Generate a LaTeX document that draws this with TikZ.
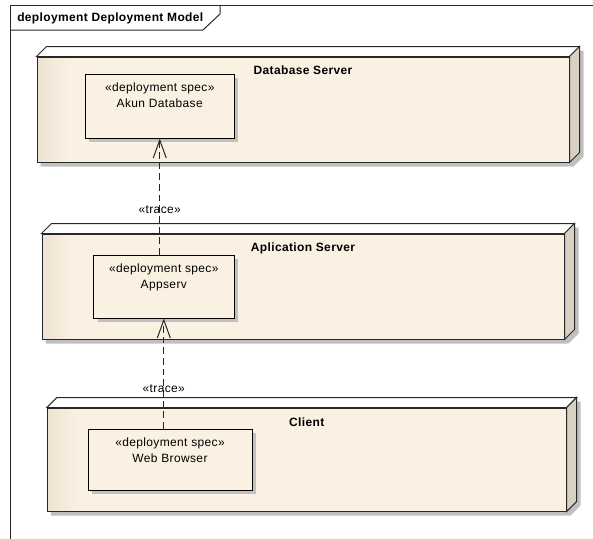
\documentclass[tikz,border=0pt]{standalone}
\usepackage{fontspec}
\setmainfont{Liberation Sans}[LetterSpace=3]
\usetikzlibrary{arrows.meta,shadows}
\pgfdeclarelayer{background}
\pgfsetlayers{background,main}
\definecolor{beige}{RGB}{251,241,226}
\definecolor{beigeD}{RGB}{238,227,211}
\definecolor{sidec}{RGB}{216,208,192}
\definecolor{shadowc}{RGB}{192,192,192}
\definecolor{framec}{RGB}{40,40,40}
\newcommand\srvfaces[1]{%
  \filldraw[fill=white, draw=framec, line width=0.75pt, line join=miter]
    (#1.north west) -- ++(10,-10) -- ([shift={(10,-10)}]#1.north east) -- (#1.north east) -- cycle;
  \filldraw[fill=sidec, draw=framec, line width=0.75pt, line join=miter]
    (#1.north east) -- ++(10,-10) -- ([shift={(10,-10)}]#1.south east) -- (#1.south east) -- cycle;
  \begin{pgfonlayer}{background}
    \fill[shadowc] ([shift={(4,4)}]#1.south west) -- ([shift={(4,4)}]#1.north west)
      -- ([shift={(14,-6)}]#1.north west) -- ([shift={(14,-6)}]#1.north east)
      -- ([shift={(14,-6)}]#1.south east) -- ([shift={(4,4)}]#1.south east) -- cycle;
  \end{pgfonlayer}}
\tikzset{
  server/.style={draw=framec, line width=0.75pt, fill=beige, inner sep=0pt,
    path picture={\foreach \i in {0,...,11}{%
        \pgfmathtruncatemacro\mixv{100-\i*100/12}%
        \fill[beigeD!\mixv!beige] ([xshift=\i*2pt]path picture bounding box.north west)
          rectangle ([xshift=\i*2pt+2.2pt]path picture bounding box.south west);}}},
  srvtitle/.style={font=\fontsize{9}{12}\selectfont\bfseries, inner sep=0pt},
  specbox/.style={draw=black, fill=beige, line width=0.75pt, inner sep=0pt,
    drop shadow={shadow xshift=3pt, shadow yshift=-3pt, fill=shadowc, opacity=1}},
  spectext/.style={align=center, inner sep=0pt, anchor=north, font=\fontsize{9}{12}\selectfont},
  trace/.style={draw=black!85, line width=0.75pt, dash pattern=on 5pt off 3pt,
    -{Straight Barb[length=13.5pt, width=9.75pt]}},
  tracelbl/.style={inner sep=0pt, font=\fontsize{9}{12}\selectfont}
}
\begin{document}
\begin{tikzpicture}[x=0.75pt, y=-0.75pt, font=\fontsize{9}{12}\selectfont]
\useasboundingbox (0,0) rectangle (593,539);
% frame
\draw[framec, line width=0.75pt] (593,5) -- (10,5) -- (10,539);
\draw[framec, line width=0.75pt] (10,30) -- (203,30) -- (220,14) -- (220,5);
\node[anchor=west, inner sep=0pt, font=\fontsize{9}{12}\selectfont\bfseries] (tab) at (17,18) {deployment Deployment Model};

% Database Server
\node[server, minimum width=399pt, minimum height=78.75pt] (db) at (303,109.5) {};
\srvfaces{db}
\node[srvtitle] (dbt) at (303,70.5) {Database Server};

% Application Server
\node[server, minimum width=391.5pt, minimum height=78.75pt] (app) at (303,286.5) {};
\srvfaces{app}
\node[srvtitle] (appt) at (303,248) {Aplication Server};

% Client
\node[server, minimum width=389pt, minimum height=77.25pt] (cl) at (306.75,459.5) {};
\srvfaces{cl}
\node[srvtitle] (clt) at (306.75,422) {Client};

% deployment specs
\node[specbox, minimum width=111.4pt, minimum height=48pt] (akun) at (159.75,106) {};
\node[spectext] (akunt) at ([yshift=-7pt]akun.north) {«deployment spec»\\Akun Database};

\node[specbox, minimum width=105.3pt, minimum height=47.25pt] (appsv) at (163.8,286.5) {};
\node[spectext] (appsvt) at ([yshift=-7pt]appsv.north) {«deployment spec»\\Appserv};

\node[specbox, minimum width=123pt, minimum height=45.75pt] (web) at (170,459.5) {};
\node[spectext] (webt) at ([yshift=-7pt]web.north) {«deployment spec»\\Web Browser};

% traces
\draw[trace] (appsv.north -| akun.south) -- node[tracelbl, pos=0.385] (tr1) {«trace»} (akun.south);
\draw[trace] (web.north -| appsv.south) -- node[tracelbl, pos=0.36] (tr2) {«trace»} (appsv.south);
\end{tikzpicture}
\end{document}
